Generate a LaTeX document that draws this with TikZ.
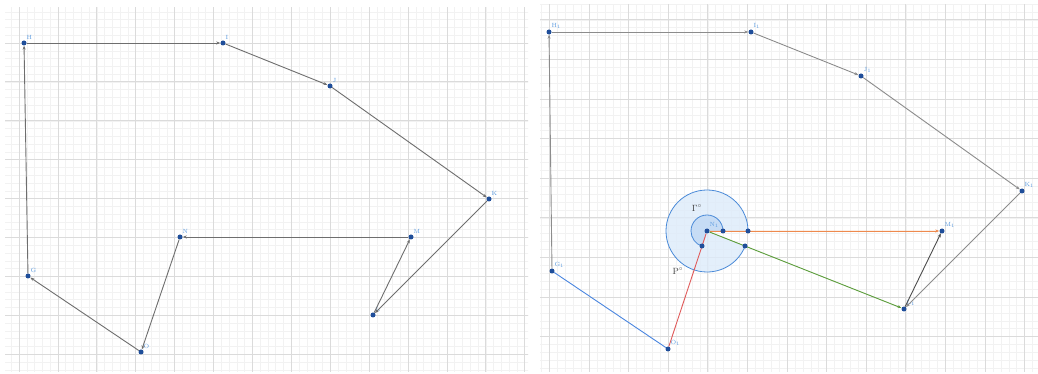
\documentclass[tikz,border=0pt]{standalone}
\usetikzlibrary{arrows.meta}
\definecolor{ptblue}{HTML}{1F4E9A}
\definecolor{lblblue}{HTML}{5B9BE0}
\definecolor{edgegray}{HTML}{6E6E6E}
\definecolor{orangeln}{HTML}{EE8A4E}
\definecolor{greenln}{HTML}{5E9E3E}
\definecolor{redln}{HTML}{E05A5A}
\definecolor{blueln}{HTML}{4A86E0}
\definecolor{anglefill}{HTML}{DDEBFA}
\definecolor{anglefilltwo}{HTML}{C6DCF5}
\definecolor{anglearc}{HTML}{4A8AD8}
\begin{document}
\begin{tikzpicture}[x=1pt,y=1pt,
  minorln/.style={draw=black!5,line width=0.5pt},
  majorln/.style={draw=black!14,line width=0.8pt},
  dot/.style={circle,fill=ptblue,inner sep=0pt,minimum size=5pt},
  lbl/.style={text=lblblue,font=\fontsize{6}{7}\selectfont,inner sep=1pt},
  edgeln/.style={draw=edgegray,line width=0.9pt,-{Stealth[length=4pt,width=3pt]}},
  plain/.style={draw=edgegray,line width=0.9pt},
  anglbl/.style={text=black!75,font=\fontsize{9}{10}\selectfont,inner sep=0pt}]
\useasboundingbox (0,0) rectangle (1038,374);
\fill[white] (0,0) rectangle (1038,374);
% left grid
\begin{scope}
\clip (5,2) rectangle (528,366);
\foreach \i in {-5,...,70} \draw[minorln] ({19+7.78*\i},0) -- ++(0,374);
\foreach \i in {-10,...,50} \draw[minorln] (0,{331-7.78*\i}) -- ++(1038,0);
\foreach \i in {-1,...,14} \draw[majorln] ({19+38.9*\i},0) -- ++(0,374);
\foreach \i in {-2,...,9} \draw[majorln] (0,{331-38.9*\i}) -- ++(1038,0);
\end{scope}
% right grid
\begin{scope}
\clip (540,2) rectangle (1038,369);
\foreach \i in {-5,...,70} \draw[minorln] ({549.4+7.92*\i},0) -- ++(0,374);
\foreach \i in {-30,...,40} \draw[minorln] (0,{275-7.92*\i}) -- ++(1038,0);
\foreach \i in {-1,...,13} \draw[majorln] ({549.4+39.6*\i},0) -- ++(0,374);
\foreach \i in {-3,...,8} \draw[majorln] (0,{275-39.6*\i}) -- ++(1038,0);
\end{scope}

% ---------- left polygon ----------
\node[dot,label={[lbl]60:H}] (H) at (24,331) {};
\node[dot,label={[lbl]60:I}] (I) at (223,331) {};
\node[dot,label={[lbl]60:J}] (J) at (330,288) {};
\node[dot,label={[lbl]60:K}] (K) at (489,175) {};
\node[dot,label={[lbl]60:L}] (L) at (373,59) {};
\node[dot,label={[lbl]60:M}] (M) at (411,137) {};
\node[dot,label={[lbl]60:N}] (N) at (180,137) {};
\node[dot,label={[lbl]60:O}] (O) at (141,22) {};
\node[dot,label={[lbl]60:G}] (G) at (28,98) {};
\draw[edgeln] (H) -- (I);
\draw[edgeln] (I) -- (J);
\draw[edgeln] (J) -- (K);
\draw[edgeln] (K) -- (L);
\draw[edgeln] (L) -- (M);
\draw[edgeln] (M) -- (N);
\draw[edgeln] (N) -- (O);
\draw[edgeln] (O) -- (G);
\draw[edgeln] (G) -- (H);

% ---------- right polygon ----------
\coordinate (N1c) at (707,143);
\coordinate (bigstart) at (748,143);
\coordinate (smallstart) at (723,143);
% angle sectors
\fill[anglefill,opacity=0.8] (N1c) -- (bigstart) arc[start angle=0,end angle=338.4,radius=41] -- cycle;
\draw[anglearc,line width=0.8pt] (bigstart) arc[start angle=0,end angle=338.4,radius=41];
\fill[anglefilltwo] (N1c) -- (smallstart) arc[start angle=0,end angle=251.7,radius=16] -- cycle;
\draw[anglearc,line width=0.8pt] (smallstart) arc[start angle=0,end angle=251.7,radius=16];

\node[dot,label={[lbl]60:H$_1$}] (H1) at (549,342) {};
\node[dot,label={[lbl]60:I$_1$}] (I1) at (751,342) {};
\node[dot,label={[lbl]60:J$_1$}] (J1) at (861,298) {};
\node[dot,label={[lbl]60:K$_1$}] (K1) at (1022,183) {};
\node[dot,label={[lbl]60:M$_1$}] (M1) at (942,143) {};
\node[dot,label={[lbl]60:L$_1$}] (L1) at (904,65) {};
\node[dot,label={[lbl]60:N$_1$}] (N1) at (N1c) {};
\node[dot,label={[lbl]60:O$_1$}] (O1) at (668,25) {};
\node[dot,label={[lbl]60:G$_1$}] (G1) at (552,103) {};

\draw[edgeln,draw=black!45] (H1) -- (I1);
\draw[edgeln,draw=black!45] (I1) -- (J1);
\draw[edgeln,draw=black!45] (J1) -- (K1);
\draw[edgeln,draw=black!45] (K1) -- (L1);
\draw[edgeln,draw=black!70] (L1) -- (M1);
\draw[edgeln,draw=orangeln,fill=orangeln] (N1) -- (M1);
\draw[edgeln,draw=greenln,fill=greenln] (N1) -- (L1);
\draw[plain,draw=redln] (N1) -- (O1);
\draw[plain,draw=blueln] (O1) -- (G1);
\draw[edgeln,draw=black!45] (G1) -- (H1);

\node[dot] (a1) at (smallstart) {};
\node[dot] (a2) at (702,128) {};
\node[dot] (b1) at (bigstart) {};
\node[dot] (b2) at (745,128) {};

\node[anglbl] (gam) at (697,166) {$\Gamma^{\circ}$};
\node[anglbl] (pee) at (678,103) {P$^{\circ}$};
\end{tikzpicture}
\end{document}
